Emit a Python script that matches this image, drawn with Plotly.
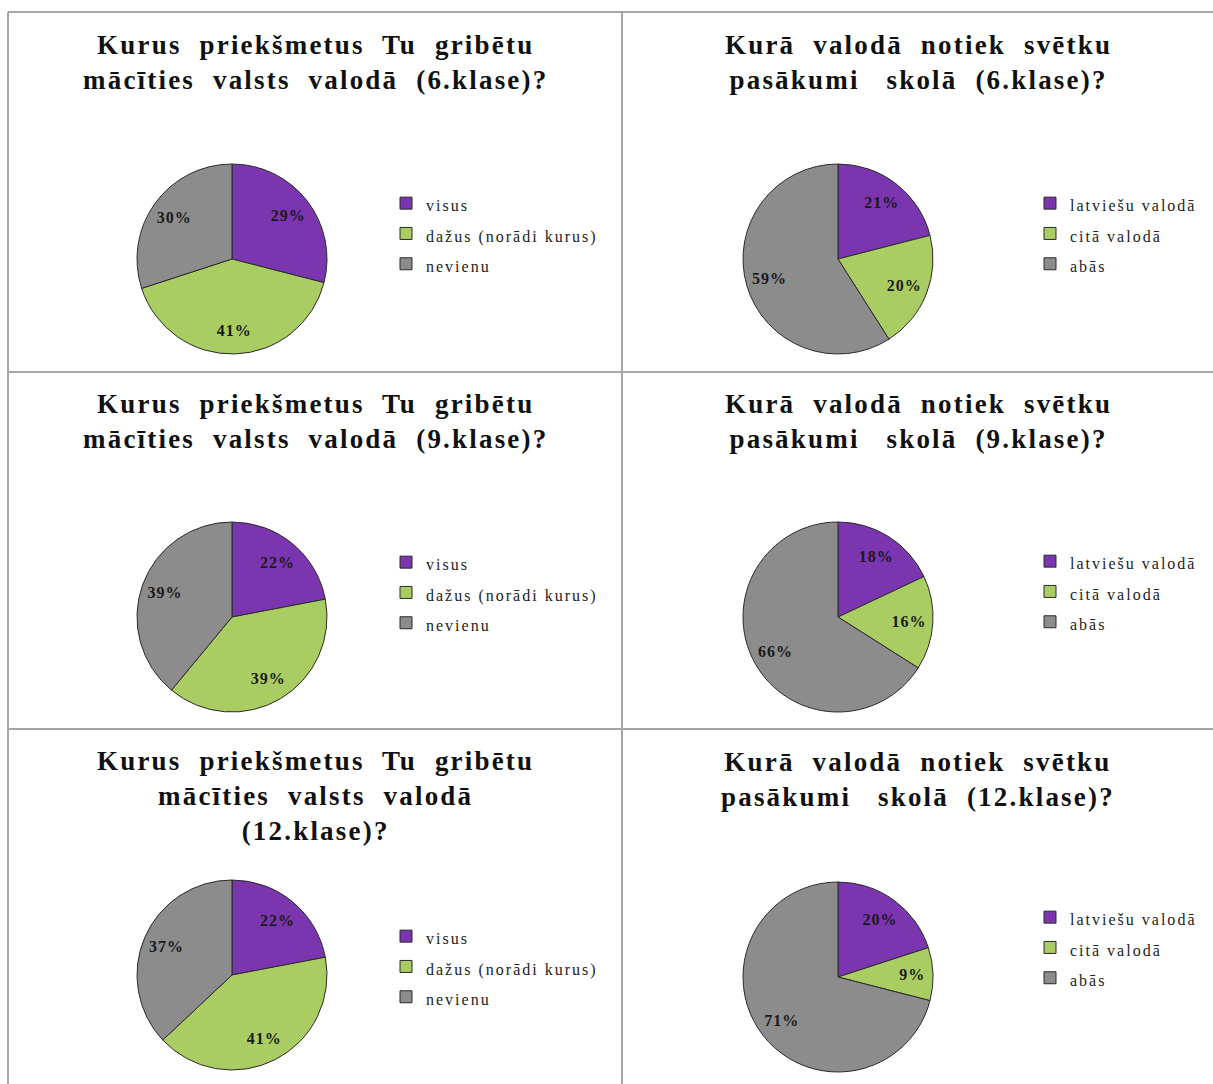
import plotly.graph_objects as go

W, H = 1213, 1084

# ---------------- data ----------------
subjects_labels = ["visus", "dažus (norādi kurus)", "nevienu"]
subjects_6 = [29, 41, 30]
subjects_9 = [22, 39, 39]
subjects_12 = [22, 41, 37]

events_labels = ["latviešu valodā", "citā valodā", "abās"]
events_6 = [21, 20, 59]
events_9 = [18, 16, 66]
events_12 = [20, 9, 71]

titles = [
    ["Kurus  priekšmetus  Tu  gribētu", "mācīties  valsts  valodā  (6.klase)?"],
    ["Kurā  valodā  notiek  svētku", "pasākumi   skolā  (6.klase)?"],
    ["Kurus  priekšmetus  Tu  gribētu", "mācīties  valsts  valodā  (9.klase)?"],
    ["Kurā  valodā  notiek  svētku", "pasākumi   skolā  (9.klase)?"],
    ["Kurus  priekšmetus  Tu  gribētu", "mācīties  valsts  valodā", "(12.klase)?"],
    ["Kurā  valodā  notiek  svētku", "pasākumi   skolā  (12.klase)?"],
]

colors = ["#7B35AF", "#A9CD63", "#8C8C8C"]

# ---------------- layout helpers ----------------
def px_x(x):
    return x / W

def px_y(y):
    return 1 - y / H

panels = [
    # labels, values, pie center (px), legend top-left (px), title center (px)
    (subjects_labels, subjects_6, (232, 259), (386, 183), (315, 62)),
    (events_labels, events_6, (838, 259), (1030, 183), (918, 62)),
    (subjects_labels, subjects_9, (232, 617), (386, 542), (315, 421)),
    (events_labels, events_9, (838, 617), (1030, 541), (918, 421)),
    (subjects_labels, subjects_12, (232, 975), (386, 916), (315, 796)),
    (events_labels, events_12, (838, 977), (1030, 897), (918, 779)),
]

R = 95
fig = go.Figure()
layout_legends = {}
annotations = []
for i, (labels, vals, (cx, cy), (lx, ly), (tx, ty)) in enumerate(panels):
    lname = "legend" if i == 0 else f"legend{i+1}"
    dom = dict(x=[px_x(cx - R), px_x(cx + R)], y=[px_y(cy + R), px_y(cy - R)])
    # a tiny style difference per pie keeps each pie's legend entries separate
    ls = 2 + i * 0.001
    leg_labels = [
        f'<span style="font-size:16px;letter-spacing:{ls}px">{l}</span>' for l in labels
    ]
    fig.add_trace(go.Pie(
        labels=leg_labels,
        values=vals,
        sort=False,
        direction="clockwise",
        rotation=0,
        marker=dict(colors=colors, line=dict(color="#2b2b2b", width=1)),
        textinfo="none",
        hoverinfo="percent",
        domain=dom,
        legend=lname,
        showlegend=True,
    ))
    # transparent ring carrying the percentage labels (placed at ~0.75 R like the original)
    fig.add_trace(go.Pie(
        labels=[f"t{i}_{k}" for k in range(len(vals))],
        values=vals,
        sort=False,
        direction="clockwise",
        rotation=0,
        hole=0.5,
        marker=dict(colors=["rgba(0,0,0,0)"] * len(vals), line=dict(width=0)),
        texttemplate='<span style="letter-spacing:1px">%{value}%</span>',
        textposition="inside",
        insidetextorientation="horizontal",
        insidetextfont=dict(family="Liberation Serif", size=16, color="#1a1a1a", weight="bold"),
        hoverinfo="skip",
        domain=dom,
        showlegend=False,
    ))
    layout_legends[lname] = dict(
        x=px_x(lx), y=px_y(ly), xanchor="left", yanchor="top",
        font=dict(family="Liberation Serif", size=21, color="#222222"),
        bgcolor="rgba(0,0,0,0)", itemclick=False, itemdoubleclick=False,
        tracegroupgap=0,
    )
    title_html = "<br>".join(
        f'<span style="letter-spacing:2.2px">{line}</span>' for line in titles[i]
    )
    annotations.append(dict(
        x=px_x(tx), y=px_y(ty), xref="paper", yref="paper",
        text=title_html, showarrow=False, align="center",
        xanchor="center", yanchor="middle",
        font=dict(family="Liberation Serif", size=27, color="#111111", weight="bold"),
    ))

line_col = "#a6a6a6"
shapes = [
    dict(type="line", xref="paper", yref="paper", x0=px_x(8), x1=1, y0=px_y(12), y1=px_y(12),
         line=dict(color=line_col, width=2)),
    dict(type="line", xref="paper", yref="paper", x0=px_x(8), x1=px_x(8), y0=px_y(12), y1=0,
         line=dict(color=line_col, width=2)),
    dict(type="line", xref="paper", yref="paper", x0=px_x(622), x1=px_x(622), y0=px_y(12), y1=0,
         line=dict(color=line_col, width=2)),
    dict(type="line", xref="paper", yref="paper", x0=px_x(8), x1=1, y0=px_y(372), y1=px_y(372),
         line=dict(color=line_col, width=2)),
    dict(type="line", xref="paper", yref="paper", x0=px_x(8), x1=1, y0=px_y(729), y1=px_y(729),
         line=dict(color=line_col, width=2)),
]

fig.update_layout(
    width=W, height=H,
    margin=dict(l=0, r=0, t=0, b=0),
    paper_bgcolor="white", plot_bgcolor="white",
    annotations=annotations,
    shapes=shapes,
    **layout_legends,
)

fig.write_html("out.html")
